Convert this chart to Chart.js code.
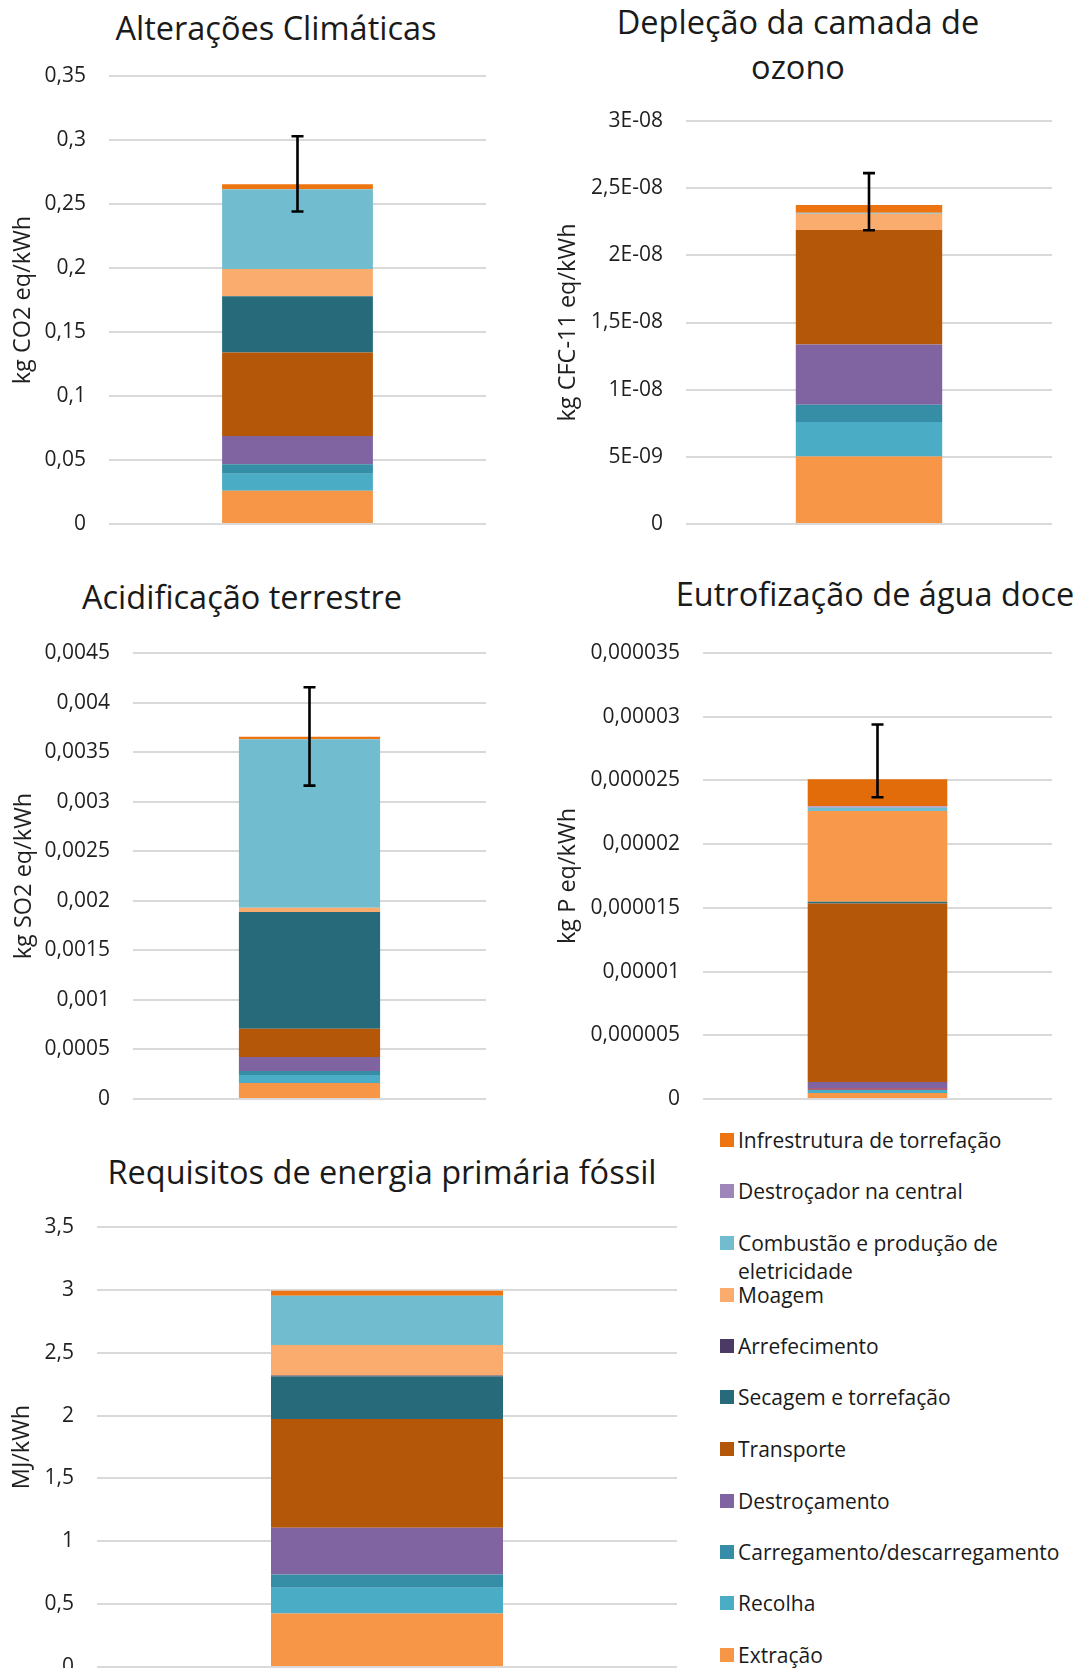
<!DOCTYPE html>
<html lang="pt">
<head>
<meta charset="utf-8">
<title>Impactes ambientais por etapa</title>
<script src="https://cdn.jsdelivr.net/npm/chart.js@4.4.1/dist/chart.umd.min.js"></script>
<style>
  html, body { margin: 0; padding: 0; overflow: hidden; background: #fff; }
  #page { position: relative; width: 1080px; height: 1668px; font-family: 'Open Sans', sans-serif; color: #1a1a1a; }
  #page canvas { position: absolute; }
  .title { position: absolute; width: 560px; text-align: center; font-size: 32.5px; line-height: 44.6px; white-space: nowrap; }
  .legend-item { position: absolute; left: 720px; width: 360px; font-size: 21px; line-height: 28.7px; }
  .legend-item .box { position: absolute; left: 0; top: 7px; width: 14px; height: 14px; }
  .legend-item .txt { position: absolute; left: 18px; width: 338px; }
</style>
</head>
<body>
<div id="page">
  <div class="title" style="left:-4px; top:6px;">Alterações Climáticas</div>
  <div class="title" style="left:518px; top:0px;">Depleção da camada de<br>ozono</div>
  <div class="title" style="left:-38px; top:575px;">Acidificação terrestre</div>
  <div class="title" style="left:595px; top:572px;">Eutrofização de água doce</div>
  <div class="title" style="left:102px; top:1150px;">Requisitos de energia primária fóssil</div>

  <canvas id="c1" width="477" height="488" style="left:9px; top:56px;"></canvas>
  <canvas id="c2" width="498" height="443" style="left:554px; top:101px;"></canvas>
  <canvas id="c3" width="476" height="486" style="left:10px; top:633px;"></canvas>
  <canvas id="c4" width="498" height="486" style="left:554px; top:633px;"></canvas>
  <canvas id="c5" width="669" height="480" style="left:8px; top:1207px;"></canvas>

  <div id="legend"></div>
</div>

<script>
// stacking order, bottom to top
const seriesNames = [
  "Extração",
  "Recolha",
  "Carregamento/descarregamento",
  "Destroçamento",
  "Transporte",
  "Secagem e torrefação",
  "Arrefecimento",
  "Moagem",
  "Combustão e produção de eletricidade",
  "Destroçador na central",
  "Infrestrutura de torrefação"
];
const seriesColors = [
  "#F79646", "#4BACC6", "#358DA6", "#8064A2", "#B55708", "#276B7B",
  "#4B3A63", "#F9AC6E", "#72BCD0", "#9E86BA", "#EE7311"
];
// the freshwater chart was coloured a little differently in the original
const eutroColors = [
  "#F79646", "#4BACC6", "#A8607A", "#8064A2", "#B55708", "#276B7B",
  "#4B3A63", "#F7984A", "#72BCD0", "#A995C4", "#E36C0A"
];

const categories = [""];

const climateValues = [0.0259, 0.0134, 0.0073, 0.0222, 0.0652, 0.0440, 0, 0.0213, 0.0623, 0, 0.0039];
const ozoneValues = [5.02e-9, 2.58e-9, 1.27e-9, 4.50e-9, 8.52e-9, 0, 0, 1.21e-9, 0.07e-9, 0, 0.57e-9];
const acidValues = [0.000162, 0.0000808, 0.0000404, 0.000141, 0.000284, 0.001179, 0, 0.0000424, 0.0016995, 0, 0.0000252];
const eutroValues = [4.7e-7, 2.4e-7, 1.5e-7, 4.7e-7, 1.402e-5, 1.2e-7, 0, 7.14e-6, 2.4e-7, 1.3e-7, 2.12e-6];
const fossilValues = [0.425, 0.206, 0.105, 0.372, 0.864, 0.339, 0.008, 0.242, 0.392, 0, 0.039];

// error bars (low, high) per chart; the fossil chart has none
const errorLow = [0.2441, 2.187e-8, 0.003162, 2.368e-5, null];
const errorHigh = [0.3029, 2.612e-8, 0.004155, 2.939e-5, null];

const climateTicks = ["0", "0,05", "0,1", "0,15", "0,2", "0,25", "0,3", "0,35"];
const ozoneTicks = ["0", "5E-09", "1E-08", "1,5E-08", "2E-08", "2,5E-08", "3E-08"];
const acidTicks = ["0", "0,0005", "0,001", "0,0015", "0,002", "0,0025", "0,003", "0,0035", "0,004", "0,0045"];
const eutroTicks = ["0", "0,000005", "0,00001", "0,000015", "0,00002", "0,000025", "0,00003", "0,000035"];
const fossilTicks = ["0", "0,5", "1", "1,5", "2", "2,5", "3", "3,5"];

Chart.defaults.font.family = "'Open Sans', sans-serif";
Chart.defaults.color = "#1f1f1f";

const errorBars = {
  id: "errorBars",
  afterDatasetsDraw(chart, args, opts) {
    if (opts.low == null) return;
    const { ctx, scales: { x, y } } = chart;
    const cx = x.getPixelForValue(0);
    const top = y.getPixelForValue(opts.high);
    const bot = y.getPixelForValue(opts.low);
    ctx.save();
    ctx.strokeStyle = "#000";
    ctx.lineWidth = 2.6;
    ctx.beginPath();
    ctx.moveTo(cx, top); ctx.lineTo(cx, bot);
    ctx.moveTo(cx - 6, top); ctx.lineTo(cx + 6, top);
    ctx.moveTo(cx - 6, bot); ctx.lineTo(cx + 6, bot);
    ctx.stroke();
    ctx.restore();
  }
};

const toNum = s => parseFloat(s.replace(",", "."));

function makeChart(id, values, colors, tickLabels, yTitle, axisWidth, k) {
  new Chart(document.getElementById(id), {
    type: "bar",
    data: {
      labels: categories,
      datasets: seriesNames.map((name, i) => ({
        label: name,
        data: [values[i]],
        backgroundColor: colors[i],
        borderWidth: 0,
        categoryPercentage: 0.4,
        barPercentage: 1
      }))
    },
    options: {
      responsive: false,
      devicePixelRatio: 1,
      animation: false,
      events: [],
      layout: { padding: { top: 20, bottom: 20, left: 0, right: 0 } },
      plugins: {
        legend: { display: false },
        tooltip: { enabled: false },
        errorBars: { low: errorLow[k], high: errorHigh[k] }
      },
      scales: {
        x: { stacked: true, display: false },
        y: {
          stacked: true,
          min: 0,
          max: toNum(tickLabels[tickLabels.length - 1]),
          afterBuildTicks: s => { s.ticks = tickLabels.map(t => ({ value: toNum(t) })); },
          afterFit: s => { s.width = axisWidth; },
          border: { display: false },
          // invisible tick marks give the gap between labels and plot
          grid: { color: "#d9d9d9", lineWidth: 2, drawTicks: true, tickLength: 23, tickColor: "rgba(0,0,0,0)" },
          ticks: {
            autoSkip: false,
            padding: 0,
            font: { size: 21 },
            callback: (v, i) => tickLabels[i]
          },
          title: {
            display: true,
            text: yTitle,
            padding: 0,
            font: { size: 23.5 }
          }
        }
      }
    },
    plugins: [errorBars]
  });
}

makeChart("c1", climateValues, seriesColors, climateTicks, "kg CO2 eq/kWh", 100, 0);
makeChart("c2", ozoneValues, seriesColors, ozoneTicks, "kg CFC-11 eq/kWh", 132, 1);
makeChart("c3", acidValues, seriesColors, acidTicks, "kg SO2 eq/kWh", 123, 2);
makeChart("c4", eutroValues, eutroColors, eutroTicks, "kg P eq/kWh", 149, 3);
makeChart("c5", fossilValues, seriesColors, fossilTicks, "MJ/kWh", 89, 4);

// shared legend, listed top of stack first
const legendCenters = [1140, 1191, 1243, 1295, 1346, 1397, 1449, 1501, 1552, 1603.5, 1655.5];
const legend = document.getElementById("legend");
seriesNames.slice().reverse().forEach((name, j) => {
  const i = seriesNames.length - 1 - j;
  const item = document.createElement("div");
  item.className = "legend-item";
  item.style.top = (legendCenters[j] - 14.35) + "px";
  item.innerHTML = '<span class="box" style="background:' + seriesColors[i] + '"></span><span class="txt">' + name + "</span>";
  legend.appendChild(item);
});
</script>
</body>
</html>
